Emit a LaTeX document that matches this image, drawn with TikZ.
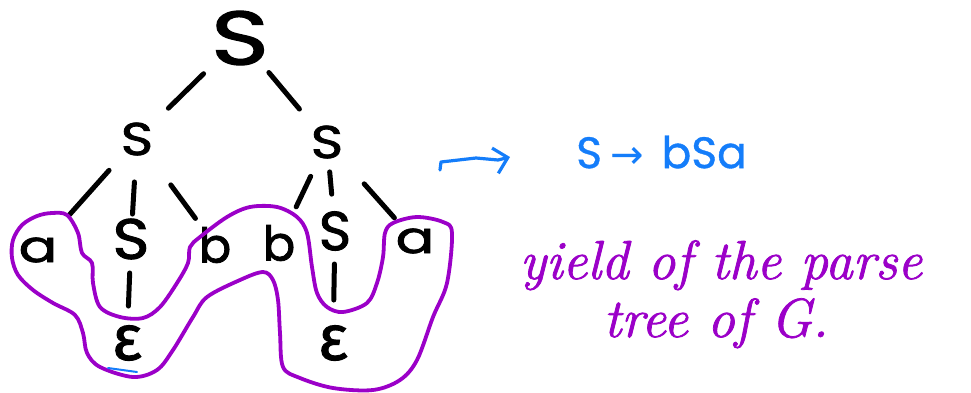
\documentclass[tikz,border=0pt]{standalone}
\usepackage{fontspec}
\newfontfamily\treefont{Poppins}[FakeBold=1.6]
\newfontfamily\rulefont{Poppins}[FakeBold=0.8]
\newfontfamily\greekfont{Fira Sans}[FakeBold=1.4]
\newfontfamily\arrowfont{DejaVu Sans}
\newfontfamily\notefont{Latin Modern Roman}[FakeBold=1.4]
\usetikzlibrary{arrows.meta,calc}
\definecolor{penblue}{RGB}{20,125,250}
\definecolor{penpurple}{RGB}{155,0,200}
\tikzset{
  sym/.style={inner sep=0pt, text=black, font=\treefont\fontsize{#1}{#1}\selectfont},
  eps/.style={inner sep=0pt, text=black, font=\greekfont\fontsize{#1}{#1}\selectfont},
  treeedge/.style={line width=5pt, line cap=round, black},
  yieldloop/.style={line width=3.8pt, penpurple, line join=round},
  bluepen/.style={line width=3.2pt, penblue, line cap=round, line join=round},
  note/.style={inner sep=0pt, anchor=base, text=penpurple, font=\notefont\itshape\fontsize{55}{55}\selectfont},
}
\begin{document}
\begin{tikzpicture}[x=1pt,y=-1pt]
\useasboundingbox (0,0) rectangle (971,392);
% tree nodes
\node[sym=76, xscale=1.3] (root) at (240,38) {S};
\node[sym=46, xscale=1.2] (sL) at (137,139) {S};
\node[sym=46, xscale=1.2] (sR) at (327,142) {S};
\node[sym=44, xscale=1.3] (a1) at (38,250) {a};
\node[sym=57, xscale=1.1] (s1) at (131,239) {S};
\node[sym=48] (b1) at (215,245) {b};
\node[sym=48] (b2) at (279,243) {b};
\node[sym=55] (s2) at (335,231) {S};
\node[sym=44, xscale=1.3] (a2) at (415,241) {a};
\node[eps=64] (e1) at (127,343) {ε};
\node[eps=64] (e2) at (333,343) {ε};
% tree edges
\draw[treeedge, shorten <=51pt, shorten >=44pt] (root.center) -- (sL.center);
\draw[treeedge, shorten <=45pt, shorten >=43pt] (root.center) -- (sR.center);
\draw[treeedge, shorten <=42pt, shorten >=47pt] (sL.center) -- (a1.center);
\draw[treeedge, shorten <=43pt, shorten >=25pt] (sL.center) -- (s1.center);
\draw[treeedge, shorten <=57pt, shorten >=33pt] (sL.center) -- (b1.center);
\draw[treeedge, shorten <=38pt, shorten >=40pt] (sR.center) -- (b2.center);
\draw[treeedge, shorten <=30pt, shorten >=37pt] (sR.center) -- (s2.center);
\draw[treeedge, shorten <=56pt, shorten >=31pt] (sR.center) -- (a2.center);
\draw[treeedge, shorten <=34pt, shorten >=37pt] (s1.center) -- (e1.center);
\draw[treeedge, shorten <=33pt, shorten >=43pt] (s2.center) -- (e2.center);
% yield loop
\draw[yieldloop] plot[smooth cycle, tension=0.55] coordinates {
 (67,215) (52,213) (37,216) (22,225) (13,240) (12,258) (18,275) (33,290)
 (53,303) (75,315) (83,333) (87,353) (100,367) (133,377) (157,370) (173,350)
 (193,317) (207,297) (240,280) (263,272) (273,280) (278,300) (280,333) (283,367)
 (300,378) (333,388) (373,390) (400,380) (417,360) (433,317) (447,283) (452,233)
 (443,222) (417,217) (393,223) (385,233) (383,257) (377,283) (367,303) (343,312)
 (327,307) (317,293) (312,267) (307,233) (297,217) (277,207) (250,207) (227,217)
 (200,237) (190,247) (188,263) (177,283) (160,307) (143,318) (120,317) (100,307)
 (93,283) (92,263) (82,253) (78,233)};
% stray blue mark
\coordinate (m1) at (108,368);
\coordinate (m2) at (137,372);
\draw[bluepen, line width=2pt] (m1) -- (m2);
% blue rule
\node[inner sep=0pt, anchor=west, text=penblue, font=\rulefont\fontsize{44}{44}\selectfont] (rule) at (576,152) {S\hspace{8pt}{\arrowfont\fontsize{40}{40}\selectfont →}\hspace{18pt}bSa};
\coordinate (arrstart) at (440,170);
\draw[bluepen, -{Straight Barb[length=13pt,width=26pt,line width=3.2pt]}]
  (arrstart) -- ++(1,-8) -- ++(35,-4) -- ++(22,2) -- ($(rule.west)+(-66,5)$);
% purple note
\node[note] (l1) at (721,279) {yield of the parse};
\node[note] (l2) at (716,337) {tree of G.};
\end{tikzpicture}
\end{document}
